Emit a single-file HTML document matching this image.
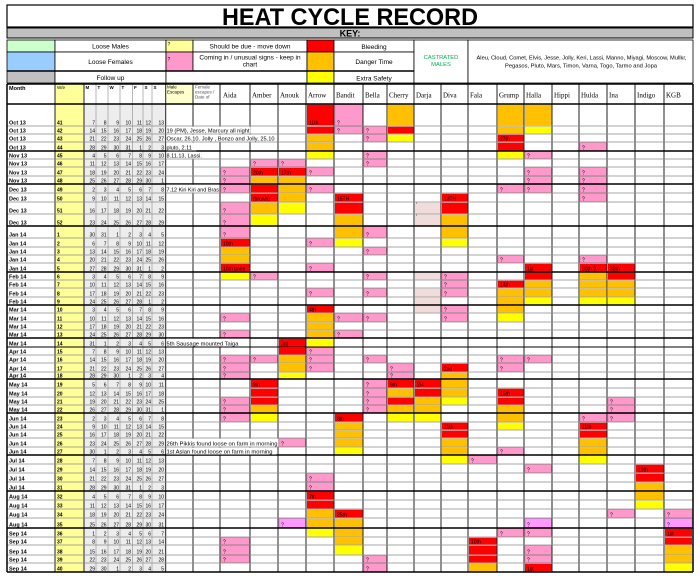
<!DOCTYPE html>
<html><head><meta charset="utf-8"><style>
html,body{margin:0;padding:0;background:#fff;width:700px;height:580px;overflow:hidden}
svg{display:block}
text{font-family:"Liberation Sans",Arial,sans-serif;fill:#000}
.m{font-size:5.5px;font-weight:bold}
.w{font-size:5px;font-weight:bold}
.n{font-size:5px;text-anchor:end}
.c{font-size:5px}
.k{font-size:6.5px;text-anchor:middle}
.nt{font-size:5.5px}
.dn{font-family:"Liberation Serif","Times New Roman",serif;font-size:7px}
.h{font-size:4.5px}
.r{fill:#ff0000}.o{fill:#ffc000}.y{fill:#ffff00}.p{fill:#ff99cc;stroke:#d9739f;stroke-width:.5}.l{fill:#f2dcdb}.g{fill:#ff99ff;stroke:#c060c0;stroke-width:.5}
</style></head><body>
<svg width="700" height="580" viewBox="0 0 700 580" xmlns="http://www.w3.org/2000/svg">
<rect width="700" height="580" fill="#fff"/>
<!-- Title -->
<rect x="7" y="5" width="686" height="22" fill="#fff" stroke="#000" stroke-width="1.2"/>
<text x="350" y="25" font-size="24" font-weight="bold" text-anchor="middle" textLength="256" lengthAdjust="spacingAndGlyphs">HEAT CYCLE RECORD</text>
<rect x="7" y="28" width="686" height="10" fill="#c0c0c0" stroke="#000" stroke-width="1"/>
<text x="350" y="36.5" font-size="9" font-weight="bold" text-anchor="middle">KEY:</text>
<!-- Key -->
<g stroke="#000" stroke-width=".8">
<rect x="7" y="40" width="48" height="12" fill="#ccffcc"/>
<rect x="7" y="52" width="48" height="19" fill="#99ccff"/>
<rect x="7" y="71" width="48" height="12" fill="#c0c0c0"/>
<rect x="55" y="40" width="111" height="12" fill="#fff"/>
<rect x="55" y="52" width="111" height="19" fill="#fff"/>
<rect x="55" y="71" width="111" height="12" fill="#fff"/>
<rect x="166" y="40" width="27" height="12" fill="#ffff99"/>
<rect x="166" y="52" width="27" height="19" fill="#ff99cc"/>
<rect x="193" y="40" width="114" height="12" fill="#fff"/>
<rect x="193" y="52" width="114" height="19" fill="#fff"/>
<rect x="166" y="71" width="141" height="12" fill="#fff"/>
<rect x="307" y="40" width="27" height="12" fill="#ff0000"/>
<rect x="307" y="52" width="27" height="19" fill="#ffc000"/>
<rect x="307" y="71" width="27" height="12" fill="#ffff00"/>
<rect x="334" y="40" width="80" height="12" fill="#fff"/>
<rect x="334" y="52" width="80" height="19" fill="#fff"/>
<rect x="334" y="71" width="80" height="12" fill="#fff"/>
<rect x="414" y="40" width="54" height="43" fill="#fff"/>
<rect x="468" y="40" width="225" height="43" fill="#fff"/>
</g>
<line x1="7" y1="71" x2="414" y2="71" stroke="#000" stroke-width="1.6"/>
<text class="k" x="110.5" y="48.5">Loose Males</text>
<text class="k" x="110.5" y="64">Loose Females</text>
<text class="k" x="110.5" y="80">Follow up</text>
<text class="c" x="167.5" y="46">?</text>
<text class="c" x="167.5" y="61">?</text>
<text class="k" x="250" y="48.5">Should be due - move down</text>
<text class="k" x="250" y="59.5">Coming in / unusual signs - keep in</text>
<text class="k" x="250" y="66.5">chart</text>
<text class="k" x="374" y="49">Bleeding</text>
<text class="k" x="374" y="64">Danger Time</text>
<text class="k" x="374" y="80.5">Extra Safety</text>
<text x="441" y="59" font-size="5.8" text-anchor="middle" style="fill:#00b050">CASTRATED</text>
<text x="441" y="66" font-size="5.8" text-anchor="middle" style="fill:#00b050">MALES</text>
<text x="581.5" y="59.5" font-size="5.5" text-anchor="middle" textLength="210" lengthAdjust="spacingAndGlyphs">Aleu, Cloud, Comet,  Elvis, Jesse, Jolly, Keri, Lassi, Manno, Miyagi, Moscow, Mullkr,</text>
<text x="581" y="67.5" font-size="5.5" text-anchor="middle" textLength="152" lengthAdjust="spacingAndGlyphs">Pegasos, Pluto, Mars, Timon, Varna, Togo, Tarmo and Jopa</text>

<!-- table backgrounds -->
<rect x="7" y="84" width="686" height="488" fill="#fff"/>
<rect x="55" y="84" width="29" height="488" fill="#ffff99"/>
<rect x="84" y="104" width="81.7" height="468" fill="#ededed"/>
<rect x="165.7" y="84" width="27.3" height="20" fill="#ffffcc"/>

<!-- colored cells -->
<g>
<!-- wk41 -->
<rect class="r" x="307" y="104.7" width="26.5" height="20.6"/>
<rect class="p" x="335" y="104.7" width="27.5" height="20.6"/>
<rect class="o" x="388" y="104.7" width="25.5" height="20.6"/>
<rect class="o" x="498" y="104.7" width="25.5" height="20.6"/>
<rect class="o" x="525" y="104.7" width="26.5" height="20.6"/>
<!-- wk42 -->
<rect class="r" x="307" y="126.7" width="26.5" height="6.8"/>
<rect class="p" x="335" y="126.7" width="27.5" height="6.8"/>
<rect class="p" x="364" y="126.7" width="22.5" height="6.8"/>
<rect class="r" x="388" y="126.7" width="25.5" height="6.8"/>
<rect class="o" x="498" y="126.7" width="25.5" height="6.8"/>
<rect class="y" x="525" y="126.7" width="26.5" height="6.8"/>
<!-- wk43 -->
<rect class="o" x="307" y="134.7" width="26.5" height="6.8"/>
<rect class="p" x="364" y="134.7" width="22.5" height="6.8"/>
<rect class="y" x="388" y="134.7" width="25.5" height="6.8"/>
<rect class="r" x="498" y="134.7" width="25.5" height="6.8"/>
<!-- wk44 -->
<rect class="o" x="307" y="142.7" width="26.5" height="7.8"/>
<rect class="r" x="498" y="142.7" width="25.5" height="7.8"/>
<rect class="p" x="580" y="142.7" width="26.5" height="7.8"/>
<!-- wk45 -->
<rect class="y" x="307" y="151.7" width="26.5" height="6.8"/>
<rect class="p" x="364" y="151.7" width="22.5" height="6.8"/>
<rect class="y" x="498" y="151.7" width="25.5" height="6.8"/>
<rect class="p" x="525" y="151.7" width="26.5" height="6.8"/>
<!-- wk46 -->
<rect class="p" x="251" y="159.7" width="26.5" height="6.8"/>
<rect class="p" x="279" y="159.7" width="26.5" height="6.8"/>
<rect class="p" x="364" y="159.7" width="22.5" height="6.8"/>
<!-- wk47 -->
<rect class="p" x="221" y="167.7" width="28.5" height="7.8"/>
<rect class="r" x="251" y="167.7" width="26.5" height="7.8"/>
<rect class="r" x="279" y="167.7" width="26.5" height="7.8"/>
<rect class="p" x="307" y="167.7" width="26.5" height="7.8"/>
<rect class="p" x="525" y="167.7" width="26.5" height="7.8"/>
<rect class="p" x="580" y="167.7" width="26.5" height="7.8"/>
<!-- wk48 -->
<rect class="p" x="221" y="176.7" width="28.5" height="6.8"/>
<rect class="o" x="251" y="176.7" width="26.5" height="6.8"/>
<rect class="o" x="279" y="176.7" width="26.5" height="6.8"/>
<rect class="p" x="525" y="176.7" width="26.5" height="6.8"/>
<rect class="p" x="580" y="176.7" width="26.5" height="6.8"/>
<!-- wk49 -->
<rect class="p" x="221" y="184.7" width="28.5" height="7.8"/>
<rect class="r" x="251" y="184.7" width="26.5" height="7.8"/>
<rect class="o" x="279" y="184.7" width="26.5" height="7.8"/>
<rect class="p" x="307" y="184.7" width="26.5" height="7.8"/>
<rect class="p" x="498" y="184.7" width="25.5" height="7.8"/>
<rect class="p" x="525" y="184.7" width="26.5" height="7.8"/>
<rect class="p" x="580" y="184.7" width="26.5" height="7.8"/>
<!-- wk50 -->
<rect class="r" x="251" y="193.7" width="26.5" height="7.8"/>
<rect class="o" x="279" y="193.7" width="26.5" height="7.8"/>
<rect class="r" x="335" y="193.7" width="27.5" height="7.8"/>
<rect class="r" x="442" y="193.7" width="25.5" height="7.8"/>
<rect class="p" x="580" y="193.7" width="26.5" height="7.8"/>
<!-- wk51 -->
<rect class="p" x="221" y="202.7" width="28.5" height="10.8"/>
<rect class="o" x="251" y="202.7" width="26.5" height="10.8"/>
<rect class="y" x="279" y="202.7" width="26.5" height="10.8"/>
<rect class="r" x="335" y="202.7" width="27.5" height="10.8"/>
<rect class="l" x="415" y="202.7" width="25.5" height="10.8"/>
<rect class="r" x="442" y="202.7" width="25.5" height="10.8"/>
<!-- wk52 -->
<rect class="p" x="221" y="214.7" width="28.5" height="10.8"/>
<rect class="y" x="251" y="214.7" width="26.5" height="10.8"/>
<rect class="o" x="335" y="214.7" width="27.5" height="10.8"/>
<rect class="l" x="415" y="214.7" width="25.5" height="10.8"/>
<rect class="o" x="442" y="214.7" width="25.5" height="10.8"/>
<!-- wk1 -->
<rect class="p" x="221" y="226.7" width="28.5" height="10.8"/>
<rect class="o" x="335" y="226.7" width="27.5" height="10.8"/>
<rect class="p" x="364" y="226.7" width="22.5" height="10.8"/>
<rect class="o" x="442" y="226.7" width="25.5" height="10.8"/>
<!-- wk2 -->
<rect class="r" x="221" y="238.7" width="28.5" height="7.8"/>
<rect class="p" x="307" y="238.7" width="26.5" height="7.8"/>
<rect class="y" x="335" y="238.7" width="27.5" height="7.8"/>
<rect class="y" x="442" y="238.7" width="25.5" height="7.8"/>
<!-- wk3 -->
<rect class="o" x="221" y="247.7" width="28.5" height="6.8"/>
<rect class="p" x="364" y="247.7" width="22.5" height="6.8"/>
<!-- wk4 -->
<rect class="o" x="221" y="255.7" width="28.5" height="6.8"/>
<rect class="p" x="498" y="255.7" width="25.5" height="6.8"/>
<rect class="p" x="580" y="255.7" width="26.5" height="6.8"/>
<!-- wk5 -->
<rect class="r" x="221" y="263.7" width="28.5" height="7.8"/>
<rect class="p" x="307" y="263.7" width="26.5" height="7.8"/>
<rect class="r" x="525" y="263.7" width="26.5" height="7.8"/>
<rect class="r" x="580" y="263.7" width="26.5" height="7.8"/>
<rect class="r" x="608" y="263.7" width="26.5" height="7.8"/>
<!-- wk6 -->
<rect class="y" x="221" y="272.7" width="28.5" height="6.8"/>
<rect class="p" x="251" y="272.7" width="26.5" height="6.8"/>
<rect class="p" x="364" y="272.7" width="22.5" height="6.8"/>
<rect class="l" x="415" y="272.7" width="25.5" height="6.8"/>
<rect class="p" x="442" y="272.7" width="25.5" height="6.8"/>
<rect class="r" x="525" y="272.7" width="26.5" height="6.8"/>
<rect class="o" x="580" y="272.7" width="26.5" height="6.8"/>
<rect class="r" x="608" y="272.7" width="26.5" height="6.8"/>
<!-- wk7 -->
<rect class="p" x="442" y="280.7" width="25.5" height="6.8"/>
<rect class="r" x="498" y="280.7" width="25.5" height="6.8"/>
<rect class="o" x="525" y="280.7" width="26.5" height="6.8"/>
<rect class="o" x="580" y="280.7" width="26.5" height="6.8"/>
<rect class="o" x="608" y="280.7" width="26.5" height="6.8"/>
<!-- wk8 -->
<rect class="p" x="307" y="288.7" width="26.5" height="7.8"/>
<rect class="p" x="364" y="288.7" width="22.5" height="7.8"/>
<rect class="l" x="415" y="288.7" width="25.5" height="7.8"/>
<rect class="p" x="442" y="288.7" width="25.5" height="7.8"/>
<rect class="o" x="498" y="288.7" width="25.5" height="7.8"/>
<rect class="o" x="525" y="288.7" width="26.5" height="7.8"/>
<rect class="o" x="580" y="288.7" width="26.5" height="7.8"/>
<rect class="o" x="608" y="288.7" width="26.5" height="7.8"/>
<!-- wk9 -->
<rect class="l" x="415" y="297.7" width="25.5" height="6.8"/>
<rect class="o" x="498" y="297.7" width="25.5" height="6.8"/>
<rect class="y" x="525" y="297.7" width="26.5" height="6.8"/>
<rect class="y" x="580" y="297.7" width="26.5" height="6.8"/>
<rect class="y" x="608" y="297.7" width="26.5" height="6.8"/>
<!-- wk10 -->
<rect class="r" x="307" y="305.7" width="26.5" height="6.8"/>
<rect class="l" x="415" y="305.7" width="25.5" height="6.8"/>
<rect class="p" x="442" y="305.7" width="25.5" height="6.8"/>
<rect class="o" x="498" y="305.7" width="25.5" height="6.8"/>
<!-- wk11 -->
<rect class="p" x="221" y="313.7" width="28.5" height="7.8"/>
<rect class="o" x="307" y="313.7" width="26.5" height="7.8"/>
<rect class="p" x="335" y="313.7" width="27.5" height="7.8"/>
<rect class="p" x="364" y="313.7" width="22.5" height="7.8"/>
<rect class="p" x="442" y="313.7" width="25.5" height="7.8"/>
<rect class="y" x="498" y="313.7" width="25.5" height="7.8"/>
<!-- wk12 -->
<rect class="o" x="307" y="322.7" width="26.5" height="6.8"/>
<!-- wk13 -->
<rect class="p" x="221" y="330.7" width="28.5" height="6.8"/>
<rect class="o" x="307" y="330.7" width="26.5" height="6.8"/>
<rect class="p" x="335" y="330.7" width="27.5" height="6.8"/>
<!-- wk14 -->
<rect class="r" x="279" y="338.7" width="26.5" height="7.8"/>
<rect class="y" x="307" y="338.7" width="26.5" height="7.8"/>
<!-- wk15 -->
<rect class="r" x="279" y="347.7" width="26.5" height="6.8"/>
<rect class="p" x="307" y="347.7" width="26.5" height="6.8"/>
<!-- wk16 -->
<rect class="p" x="221" y="355.7" width="28.5" height="6.8"/>
<rect class="p" x="251" y="355.7" width="26.5" height="6.8"/>
<rect class="o" x="279" y="355.7" width="26.5" height="6.8"/>
<rect class="p" x="307" y="355.7" width="26.5" height="6.8"/>
<rect class="p" x="364" y="355.7" width="22.5" height="6.8"/>
<rect class="p" x="498" y="355.7" width="25.5" height="6.8"/>
<rect class="p" x="525" y="355.7" width="26.5" height="6.8"/>
<!-- wk17 -->
<rect class="p" x="221" y="363.7" width="28.5" height="7.8"/>
<rect class="o" x="279" y="363.7" width="26.5" height="7.8"/>
<rect class="p" x="307" y="363.7" width="26.5" height="7.8"/>
<rect class="p" x="388" y="363.7" width="25.5" height="7.8"/>
<rect class="r" x="442" y="363.7" width="25.5" height="7.8"/>
<rect class="p" x="498" y="363.7" width="25.5" height="7.8"/>
<!-- wk18 -->
<rect class="p" x="221" y="372.7" width="28.5" height="5.8"/>
<rect class="y" x="279" y="372.7" width="26.5" height="5.8"/>
<rect class="p" x="388" y="372.7" width="25.5" height="5.8"/>
<rect class="o" x="442" y="372.7" width="25.5" height="5.8"/>
<!-- wk19 -->
<rect class="r" x="251" y="379.7" width="26.5" height="7.8"/>
<rect class="p" x="364" y="379.7" width="22.5" height="7.8"/>
<rect class="r" x="388" y="379.7" width="25.5" height="7.8"/>
<rect class="r" x="415" y="379.7" width="25.5" height="7.8"/>
<rect class="o" x="442" y="379.7" width="25.5" height="7.8"/>
<!-- wk20 -->
<rect class="r" x="251" y="388.7" width="26.5" height="7.8"/>
<rect class="p" x="364" y="388.7" width="22.5" height="7.8"/>
<rect class="o" x="388" y="388.7" width="25.5" height="7.8"/>
<rect class="r" x="415" y="388.7" width="25.5" height="7.8"/>
<rect class="o" x="442" y="388.7" width="25.5" height="7.8"/>
<rect class="r" x="498" y="388.7" width="25.5" height="7.8"/>
<!-- wk21 -->
<rect class="p" x="221" y="397.7" width="28.5" height="6.8"/>
<rect class="r" x="251" y="397.7" width="26.5" height="6.8"/>
<rect class="p" x="364" y="397.7" width="22.5" height="6.8"/>
<rect class="r" x="388" y="397.7" width="25.5" height="6.8"/>
<rect class="o" x="415" y="397.7" width="25.5" height="6.8"/>
<rect class="y" x="442" y="397.7" width="25.5" height="6.8"/>
<rect class="r" x="498" y="397.7" width="25.5" height="6.8"/>
<rect class="p" x="608" y="397.7" width="26.5" height="6.8"/>
<!-- wk22 -->
<rect class="p" x="221" y="405.7" width="28.5" height="6.8"/>
<rect class="o" x="251" y="405.7" width="26.5" height="6.8"/>
<rect class="p" x="364" y="405.7" width="22.5" height="6.8"/>
<rect class="o" x="388" y="405.7" width="25.5" height="6.8"/>
<rect class="o" x="415" y="405.7" width="25.5" height="6.8"/>
<rect class="o" x="498" y="405.7" width="25.5" height="6.8"/>
<rect class="p" x="608" y="405.7" width="26.5" height="6.8"/>
<!-- wk23 -->
<rect class="p" x="221" y="413.7" width="28.5" height="7.8"/>
<rect class="y" x="251" y="413.7" width="26.5" height="7.8"/>
<rect class="r" x="335" y="413.7" width="27.5" height="7.8"/>
<rect class="y" x="388" y="413.7" width="25.5" height="7.8"/>
<rect class="y" x="415" y="413.7" width="25.5" height="7.8"/>
<rect class="o" x="498" y="413.7" width="25.5" height="7.8"/>
<rect class="p" x="580" y="413.7" width="26.5" height="7.8"/>
<rect class="p" x="608" y="413.7" width="26.5" height="7.8"/>
<!-- wk24 -->
<rect class="o" x="335" y="422.7" width="27.5" height="6.8"/>
<rect class="r" x="442" y="422.7" width="25.5" height="6.8"/>
<rect class="y" x="498" y="422.7" width="25.5" height="6.8"/>
<rect class="r" x="580" y="422.7" width="26.5" height="6.8"/>
<!-- wk25 -->
<rect class="o" x="335" y="430.7" width="27.5" height="6.8"/>
<rect class="r" x="442" y="430.7" width="25.5" height="6.8"/>
<rect class="r" x="580" y="430.7" width="26.5" height="6.8"/>
<!-- wk26 -->
<rect class="p" x="279" y="438.7" width="26.5" height="7.8"/>
<rect class="o" x="335" y="438.7" width="27.5" height="7.8"/>
<rect class="o" x="442" y="438.7" width="25.5" height="7.8"/>
<rect class="o" x="580" y="438.7" width="26.5" height="7.8"/>
<!-- wk27 -->
<rect class="y" x="335" y="447.7" width="27.5" height="6.8"/>
<rect class="o" x="442" y="447.7" width="25.5" height="6.8"/>
<rect class="p" x="498" y="447.7" width="25.5" height="6.8"/>
<rect class="o" x="580" y="447.7" width="26.5" height="6.8"/>
<!-- wk28 -->
<rect class="y" x="442" y="455.7" width="25.5" height="7.8"/>
<rect class="p" x="469" y="455.7" width="27.5" height="7.8"/>
<rect class="y" x="580" y="455.7" width="26.5" height="7.8"/>
<!-- wk29 -->
<rect class="p" x="525" y="464.7" width="26.5" height="7.8"/>
<rect class="r" x="636" y="464.7" width="27.5" height="7.8"/>
<!-- wk30 -->
<rect class="p" x="307" y="473.7" width="26.5" height="7.8"/>
<rect class="r" x="636" y="473.7" width="27.5" height="7.8"/>
<!-- wk31 -->
<rect class="p" x="307" y="482.7" width="26.5" height="7.8"/>
<rect class="o" x="636" y="482.7" width="27.5" height="7.8"/>
<!-- wk32 -->
<rect class="r" x="307" y="491.7" width="26.5" height="7.8"/>
<rect class="o" x="636" y="491.7" width="27.5" height="7.8"/>
<!-- wk33 -->
<rect class="r" x="307" y="500.7" width="26.5" height="7.8"/>
<rect class="y" x="636" y="500.7" width="27.5" height="7.8"/>
<!-- wk34 -->
<rect class="o" x="307" y="509.7" width="26.5" height="7.8"/>
<rect class="r" x="335" y="509.7" width="27.5" height="7.8"/>
<rect class="p" x="608" y="509.7" width="26.5" height="7.8"/>
<rect class="p" x="665" y="509.7" width="27" height="7.8"/>
<!-- wk35 -->
<rect class="g" x="279" y="518.7" width="26.5" height="8.8"/>
<rect class="o" x="307" y="518.7" width="26.5" height="8.8"/>
<rect class="o" x="335" y="518.7" width="27.5" height="8.8"/>
<rect class="g" x="525" y="518.7" width="26.5" height="8.8"/>
<rect class="g" x="665" y="518.7" width="27" height="8.8"/>
<!-- wk36 -->
<rect class="y" x="307" y="528.7" width="26.5" height="7.8"/>
<rect class="o" x="335" y="528.7" width="27.5" height="7.8"/>
<rect class="p" x="498" y="528.7" width="25.5" height="7.8"/>
<rect class="p" x="525" y="528.7" width="26.5" height="7.8"/>
<rect class="r" x="665" y="528.7" width="27" height="7.8"/>
<!-- wk37 -->
<rect class="p" x="221" y="537.7" width="28.5" height="6.8"/>
<rect class="o" x="335" y="537.7" width="27.5" height="6.8"/>
<rect class="r" x="469" y="537.7" width="27.5" height="6.8"/>
<rect class="r" x="665" y="537.7" width="27" height="6.8"/>
<!-- wk38 -->
<rect class="p" x="221" y="545.7" width="28.5" height="8.8"/>
<rect class="y" x="335" y="545.7" width="27.5" height="8.8"/>
<rect class="r" x="469" y="545.7" width="27.5" height="8.8"/>
<rect class="p" x="525" y="545.7" width="26.5" height="8.8"/>
<rect class="o" x="665" y="545.7" width="27" height="8.8"/>
<!-- wk39 -->
<rect class="p" x="221" y="555.7" width="28.5" height="6.8"/>
<rect class="p" x="364" y="555.7" width="22.5" height="6.8"/>
<rect class="r" x="469" y="555.7" width="27.5" height="6.8"/>
<rect class="p" x="525" y="555.7" width="26.5" height="6.8"/>
<rect class="o" x="665" y="555.7" width="27" height="6.8"/>
<!-- wk40 -->
<rect class="p" x="364" y="563.7" width="22.5" height="7.8"/>
<rect class="o" x="469" y="563.7" width="27.5" height="7.8"/>
<rect class="r" x="525" y="563.7" width="26.5" height="7.8"/>
<rect class="y" x="665" y="563.7" width="27" height="7.8"/>
</g>

<!-- grid lines -->
<path fill="none" stroke="#999" stroke-width=".7" d="M96 84V572M108 84V572M120 84V572M132.5 84V572M143 84V572M152 84V572"/>
<path fill="none" stroke="#222" stroke-width="1" d="M55 84V572M84 84V572M165.7 84V572M193 84V572M220 84V572M250 84V572M278 84V572M306 84V572M334 84V572M363 84V572M387 84V572M414 84V572M441 84V572M468 84V572M497 84V572M524 84V572M552 84V572M579 84V572M607 84V572M635 84V572M664 84V572"/>
<path fill="none" stroke="#8a8a8a" stroke-width=".7" d="M7 126H693M7 134H693M7 142H693M7 159H693M7 167H693M7 176H693M7 193H693M7 202H693M7 214H693M7 238H693M7 247H693M7 255H693M7 263H693M7 280H693M7 288H693M7 297H693M7 313H693M7 322H693M7 330H693M7 355H693M7 363H693M7 372H693M7 388H693M7 397H693M7 405H693M7 422H693M7 430H693M7 438H693M7 447H693M7 464H693M7 473H693M7 482H693M7 500H693M7 509H693M7 518H693M7 537H693M7 545H693M7 555H693M7 563H693"/>
<path fill="none" stroke="#000" stroke-width="1.1" d="M7 347H693"/>
<path fill="none" stroke="#000" stroke-width="1.5" d="M7 84H693M7 104H693M7 151H693M7 184H693M7 226H693M7 272H693M7 305H693M7 338H693M7 379H693M7 413H693M7 455H693M7 491H693M7 528H693M7 572H693"/>
<path fill="none" stroke="#000" stroke-width="1.5" d="M7 84V572M693 84V572"/>

<!-- overflow note backgrounds -->
<g fill="#fff">
<rect x="166.3" y="126.7" width="84" height="6.8"/>
<rect x="166.3" y="134.7" width="109" height="6.8"/>
<rect x="166.3" y="142.7" width="30" height="7.8"/>
<rect x="166.3" y="151.7" width="30" height="6.8"/>
<rect x="166.3" y="184.7" width="53.2" height="7.8"/>
<rect x="166.3" y="338.7" width="83" height="7.8"/>
<rect x="166.3" y="438.7" width="112" height="7.8"/>
<rect x="166.3" y="447.7" width="110" height="6.8"/>
</g>

<!-- header row -->
<text class="m" x="9" y="90">Month</text>
<text class="h" x="57" y="89">W/e</text>
<text class="h" font-weight="bold" x="85.5" y="89">M</text>
<text class="h" font-weight="bold" x="97.5" y="89">T</text>
<text class="h" font-weight="bold" x="109.5" y="89">W</text>
<text class="h" font-weight="bold" x="121.5" y="89">T</text>
<text class="h" font-weight="bold" x="134" y="89">F</text>
<text class="h" font-weight="bold" x="144.5" y="89">S</text>
<text class="h" font-weight="bold" x="153.5" y="89">S</text>
<text class="h" x="167" y="88.5">Male</text>
<text class="h" x="167" y="93.5">Escapes</text>
<text class="h" x="195" y="88.5" style="fill:#555">Female</text>
<text class="h" x="195" y="93.5" style="fill:#555">escapes /</text>
<text class="h" x="195" y="98.5" style="fill:#555">Date of</text>
<g class="dn">
<text class="dn" x="223" y="97.5">Aida</text>
<text class="dn" x="252" y="97.5">Amber</text>
<text class="dn" x="280" y="97.5">Anouk</text>
<text class="dn" x="308" y="97.5">Arrow</text>
<text class="dn" x="336" y="97.5">Bandit</text>
<text class="dn" x="365" y="97.5">Bella</text>
<text class="dn" x="389" y="97.5">Cherry</text>
<text class="dn" x="416" y="97.5">Darja</text>
<text class="dn" x="443" y="97.5">Diva</text>
<text class="dn" x="470" y="97.5">Fala</text>
<text class="dn" x="499" y="97.5">Grump</text>
<text class="dn" x="526" y="97.5">Halla</text>
<text class="dn" x="554" y="97.5">Hippi</text>
<text class="dn" x="581" y="97.5">Hulda</text>
<text class="dn" x="609" y="97.5">Ina</text>
<text class="dn" x="637" y="97.5">Indigo</text>
<text class="dn" x="666" y="97.5">KGB</text>
</g>

<!-- month labels and week numbers -->
<text class="m" x="9" y="124.5">Oct 13</text><text class="w" x="57" y="124.5">41</text>
<text class="m" x="9" y="132.5">Oct 13</text><text class="w" x="57" y="132.5">42</text>
<text class="m" x="9" y="140.5">Oct 13</text><text class="w" x="57" y="140.5">43</text>
<text class="m" x="9" y="149.5">Oct 13</text><text class="w" x="57" y="149.5">44</text>
<text class="m" x="9" y="157.5">Nov 13</text><text class="w" x="57" y="157.5">45</text>
<text class="m" x="9" y="165.5">Nov 13</text><text class="w" x="57" y="165.5">46</text>
<text class="m" x="9" y="174.5">Nov 13</text><text class="w" x="57" y="174.5">47</text>
<text class="m" x="9" y="182.5">Nov 13</text><text class="w" x="57" y="182.5">48</text>
<text class="m" x="9" y="191.5">Dec 13</text><text class="w" x="57" y="191.5">49</text>
<text class="m" x="9" y="200.5">Dec 13</text><text class="w" x="57" y="200.5">50</text>
<text class="m" x="9" y="212.5">Dec 13</text><text class="w" x="57" y="212.5">51</text>
<text class="m" x="9" y="224.5">Dec 13</text><text class="w" x="57" y="224.5">52</text>
<text class="m" x="9" y="236.5">Jan 14</text><text class="w" x="57" y="236.5">1</text>
<text class="m" x="9" y="245.5">Jan 14</text><text class="w" x="57" y="245.5">2</text>
<text class="m" x="9" y="253.5">Jan 14</text><text class="w" x="57" y="253.5">3</text>
<text class="m" x="9" y="261.5">Jan 14</text><text class="w" x="57" y="261.5">4</text>
<text class="m" x="9" y="270.5">Jan 14</text><text class="w" x="57" y="270.5">5</text>
<text class="m" x="9" y="278.5">Feb 14</text><text class="w" x="57" y="278.5">6</text>
<text class="m" x="9" y="286.5">Feb 14</text><text class="w" x="57" y="286.5">7</text>
<text class="m" x="9" y="295.5">Feb 14</text><text class="w" x="57" y="295.5">8</text>
<text class="m" x="9" y="303.5">Feb 14</text><text class="w" x="57" y="303.5">9</text>
<text class="m" x="9" y="311.5">Mar 14</text><text class="w" x="57" y="311.5">10</text>
<text class="m" x="9" y="320.5">Mar 14</text><text class="w" x="57" y="320.5">11</text>
<text class="m" x="9" y="328.5">Mar 14</text><text class="w" x="57" y="328.5">12</text>
<text class="m" x="9" y="336.5">Mar 14</text><text class="w" x="57" y="336.5">13</text>
<text class="m" x="9" y="345.5">Mar 14</text><text class="w" x="57" y="345.5">14</text>
<text class="m" x="9" y="353.5">Apr 14</text><text class="w" x="57" y="353.5">15</text>
<text class="m" x="9" y="361.5">Apr 14</text><text class="w" x="57" y="361.5">16</text>
<text class="m" x="9" y="370.5">Apr 14</text><text class="w" x="57" y="370.5">17</text>
<text class="m" x="9" y="377.5">Apr 14</text><text class="w" x="57" y="377.5">18</text>
<text class="m" x="9" y="386.5">May 14</text><text class="w" x="57" y="386.5">19</text>
<text class="m" x="9" y="395.5">May 14</text><text class="w" x="57" y="395.5">20</text>
<text class="m" x="9" y="403.5">May 14</text><text class="w" x="57" y="403.5">21</text>
<text class="m" x="9" y="411.5">May 14</text><text class="w" x="57" y="411.5">22</text>
<text class="m" x="9" y="420.5">Jun 14</text><text class="w" x="57" y="420.5">23</text>
<text class="m" x="9" y="428.5">Jun 14</text><text class="w" x="57" y="428.5">24</text>
<text class="m" x="9" y="436.5">Jun 14</text><text class="w" x="57" y="436.5">25</text>
<text class="m" x="9" y="445.5">Jun 14</text><text class="w" x="57" y="445.5">26</text>
<text class="m" x="9" y="453.5">Jun 14</text><text class="w" x="57" y="453.5">27</text>
<text class="m" x="9" y="462.5">Jul 14</text><text class="w" x="57" y="462.5">28</text>
<text class="m" x="9" y="471.5">Jul 14</text><text class="w" x="57" y="471.5">29</text>
<text class="m" x="9" y="480.5">Jul 14</text><text class="w" x="57" y="480.5">30</text>
<text class="m" x="9" y="489.5">Jul 14</text><text class="w" x="57" y="489.5">31</text>
<text class="m" x="9" y="498.5">Aug 14</text><text class="w" x="57" y="498.5">32</text>
<text class="m" x="9" y="507.5">Aug 14</text><text class="w" x="57" y="507.5">33</text>
<text class="m" x="9" y="516.5">Aug 14</text><text class="w" x="57" y="516.5">34</text>
<text class="m" x="9" y="526.5">Aug 14</text><text class="w" x="57" y="526.5">35</text>
<text class="m" x="9" y="535.5">Sep 14</text><text class="w" x="57" y="535.5">36</text>
<text class="m" x="9" y="543.5">Sep 14</text><text class="w" x="57" y="543.5">37</text>
<text class="m" x="9" y="553.5">Sep 14</text><text class="w" x="57" y="553.5">38</text>
<text class="m" x="9" y="561.5">Sep 14</text><text class="w" x="57" y="561.5">39</text>
<text class="m" x="9" y="570.5">Sep 14</text><text class="w" x="57" y="570.5">40</text>

<!-- day numbers -->
<text class="n" y="124.5"><tspan x="95">7</tspan><tspan x="106.5">8</tspan><tspan x="119">9</tspan><tspan x="131">10</tspan><tspan x="142">11</tspan><tspan x="151">12</tspan><tspan x="164">13</tspan></text>
<text class="n" y="132.5"><tspan x="95">14</tspan><tspan x="106.5">15</tspan><tspan x="119">16</tspan><tspan x="131">17</tspan><tspan x="142">18</tspan><tspan x="151">19</tspan><tspan x="164">20</tspan></text>
<text class="n" y="140.5"><tspan x="95">21</tspan><tspan x="106.5">22</tspan><tspan x="119">23</tspan><tspan x="131">24</tspan><tspan x="142">25</tspan><tspan x="151">26</tspan><tspan x="164">27</tspan></text>
<text class="n" y="149.5"><tspan x="95">28</tspan><tspan x="106.5">29</tspan><tspan x="119">30</tspan><tspan x="131">31</tspan><tspan x="142">1</tspan><tspan x="151">2</tspan><tspan x="164">3</tspan></text>
<text class="n" y="157.5"><tspan x="95">4</tspan><tspan x="106.5">5</tspan><tspan x="119">6</tspan><tspan x="131">7</tspan><tspan x="142">8</tspan><tspan x="151">9</tspan><tspan x="164">10</tspan></text>
<text class="n" y="165.5"><tspan x="95">11</tspan><tspan x="106.5">12</tspan><tspan x="119">13</tspan><tspan x="131">14</tspan><tspan x="142">15</tspan><tspan x="151">16</tspan><tspan x="164">17</tspan></text>
<text class="n" y="174.5"><tspan x="95">18</tspan><tspan x="106.5">19</tspan><tspan x="119">20</tspan><tspan x="131">21</tspan><tspan x="142">22</tspan><tspan x="151">23</tspan><tspan x="164">24</tspan></text>
<text class="n" y="182.5"><tspan x="95">25</tspan><tspan x="106.5">26</tspan><tspan x="119">27</tspan><tspan x="131">28</tspan><tspan x="142">29</tspan><tspan x="151">30</tspan><tspan x="164">1</tspan></text>
<text class="n" y="191.5"><tspan x="95">2</tspan><tspan x="106.5">3</tspan><tspan x="119">4</tspan><tspan x="131">5</tspan><tspan x="142">6</tspan><tspan x="151">7</tspan><tspan x="164">8</tspan></text>
<text class="n" y="200.5"><tspan x="95">9</tspan><tspan x="106.5">10</tspan><tspan x="119">11</tspan><tspan x="131">12</tspan><tspan x="142">13</tspan><tspan x="151">14</tspan><tspan x="164">15</tspan></text>
<text class="n" y="212.5"><tspan x="95">16</tspan><tspan x="106.5">17</tspan><tspan x="119">18</tspan><tspan x="131">19</tspan><tspan x="142">20</tspan><tspan x="151">21</tspan><tspan x="164">22</tspan></text>
<text class="n" y="224.5"><tspan x="95">23</tspan><tspan x="106.5">24</tspan><tspan x="119">25</tspan><tspan x="131">26</tspan><tspan x="142">27</tspan><tspan x="151">28</tspan><tspan x="164">29</tspan></text>
<text class="n" y="236.5"><tspan x="95">30</tspan><tspan x="106.5">31</tspan><tspan x="119">1</tspan><tspan x="131">2</tspan><tspan x="142">3</tspan><tspan x="151">4</tspan><tspan x="164">5</tspan></text>
<text class="n" y="245.5"><tspan x="95">6</tspan><tspan x="106.5">7</tspan><tspan x="119">8</tspan><tspan x="131">9</tspan><tspan x="142">10</tspan><tspan x="151">11</tspan><tspan x="164">12</tspan></text>
<text class="n" y="253.5"><tspan x="95">13</tspan><tspan x="106.5">14</tspan><tspan x="119">15</tspan><tspan x="131">16</tspan><tspan x="142">17</tspan><tspan x="151">18</tspan><tspan x="164">19</tspan></text>
<text class="n" y="261.5"><tspan x="95">20</tspan><tspan x="106.5">21</tspan><tspan x="119">22</tspan><tspan x="131">23</tspan><tspan x="142">24</tspan><tspan x="151">25</tspan><tspan x="164">26</tspan></text>
<text class="n" y="270.5"><tspan x="95">27</tspan><tspan x="106.5">28</tspan><tspan x="119">29</tspan><tspan x="131">30</tspan><tspan x="142">31</tspan><tspan x="151">1</tspan><tspan x="164">2</tspan></text>
<text class="n" y="278.5"><tspan x="95">3</tspan><tspan x="106.5">4</tspan><tspan x="119">5</tspan><tspan x="131">6</tspan><tspan x="142">7</tspan><tspan x="151">8</tspan><tspan x="164">9</tspan></text>
<text class="n" y="286.5"><tspan x="95">10</tspan><tspan x="106.5">11</tspan><tspan x="119">12</tspan><tspan x="131">13</tspan><tspan x="142">14</tspan><tspan x="151">15</tspan><tspan x="164">16</tspan></text>
<text class="n" y="295.5"><tspan x="95">17</tspan><tspan x="106.5">18</tspan><tspan x="119">19</tspan><tspan x="131">20</tspan><tspan x="142">21</tspan><tspan x="151">22</tspan><tspan x="164">23</tspan></text>
<text class="n" y="303.5"><tspan x="95">24</tspan><tspan x="106.5">25</tspan><tspan x="119">26</tspan><tspan x="131">27</tspan><tspan x="142">28</tspan><tspan x="151">1</tspan><tspan x="164">2</tspan></text>
<text class="n" y="311.5"><tspan x="95">3</tspan><tspan x="106.5">4</tspan><tspan x="119">5</tspan><tspan x="131">6</tspan><tspan x="142">7</tspan><tspan x="151">8</tspan><tspan x="164">9</tspan></text>
<text class="n" y="320.5"><tspan x="95">10</tspan><tspan x="106.5">11</tspan><tspan x="119">12</tspan><tspan x="131">13</tspan><tspan x="142">14</tspan><tspan x="151">15</tspan><tspan x="164">16</tspan></text>
<text class="n" y="328.5"><tspan x="95">17</tspan><tspan x="106.5">18</tspan><tspan x="119">19</tspan><tspan x="131">20</tspan><tspan x="142">21</tspan><tspan x="151">22</tspan><tspan x="164">23</tspan></text>
<text class="n" y="336.5"><tspan x="95">24</tspan><tspan x="106.5">25</tspan><tspan x="119">26</tspan><tspan x="131">27</tspan><tspan x="142">28</tspan><tspan x="151">29</tspan><tspan x="164">30</tspan></text>
<text class="n" y="345.5"><tspan x="95">31</tspan><tspan x="106.5">1</tspan><tspan x="119">2</tspan><tspan x="131">3</tspan><tspan x="142">4</tspan><tspan x="151">5</tspan><tspan x="164">6</tspan></text>
<text class="n" y="353.5"><tspan x="95">7</tspan><tspan x="106.5">8</tspan><tspan x="119">9</tspan><tspan x="131">10</tspan><tspan x="142">11</tspan><tspan x="151">12</tspan><tspan x="164">13</tspan></text>
<text class="n" y="361.5"><tspan x="95">14</tspan><tspan x="106.5">15</tspan><tspan x="119">16</tspan><tspan x="131">17</tspan><tspan x="142">18</tspan><tspan x="151">19</tspan><tspan x="164">20</tspan></text>
<text class="n" y="370.5"><tspan x="95">21</tspan><tspan x="106.5">22</tspan><tspan x="119">23</tspan><tspan x="131">24</tspan><tspan x="142">25</tspan><tspan x="151">26</tspan><tspan x="164">27</tspan></text>
<text class="n" y="377.5"><tspan x="95">28</tspan><tspan x="106.5">29</tspan><tspan x="119">30</tspan><tspan x="131">1</tspan><tspan x="142">2</tspan><tspan x="151">3</tspan><tspan x="164">4</tspan></text>
<text class="n" y="386.5"><tspan x="95">5</tspan><tspan x="106.5">6</tspan><tspan x="119">7</tspan><tspan x="131">8</tspan><tspan x="142">9</tspan><tspan x="151">10</tspan><tspan x="164">11</tspan></text>
<text class="n" y="395.5"><tspan x="95">12</tspan><tspan x="106.5">13</tspan><tspan x="119">14</tspan><tspan x="131">15</tspan><tspan x="142">16</tspan><tspan x="151">17</tspan><tspan x="164">18</tspan></text>
<text class="n" y="403.5"><tspan x="95">19</tspan><tspan x="106.5">20</tspan><tspan x="119">21</tspan><tspan x="131">22</tspan><tspan x="142">23</tspan><tspan x="151">24</tspan><tspan x="164">25</tspan></text>
<text class="n" y="411.5"><tspan x="95">26</tspan><tspan x="106.5">27</tspan><tspan x="119">28</tspan><tspan x="131">29</tspan><tspan x="142">30</tspan><tspan x="151">31</tspan><tspan x="164">1</tspan></text>
<text class="n" y="420.5"><tspan x="95">2</tspan><tspan x="106.5">3</tspan><tspan x="119">4</tspan><tspan x="131">5</tspan><tspan x="142">6</tspan><tspan x="151">7</tspan><tspan x="164">8</tspan></text>
<text class="n" y="428.5"><tspan x="95">9</tspan><tspan x="106.5">10</tspan><tspan x="119">11</tspan><tspan x="131">12</tspan><tspan x="142">13</tspan><tspan x="151">14</tspan><tspan x="164">15</tspan></text>
<text class="n" y="436.5"><tspan x="95">16</tspan><tspan x="106.5">17</tspan><tspan x="119">18</tspan><tspan x="131">19</tspan><tspan x="142">20</tspan><tspan x="151">21</tspan><tspan x="164">22</tspan></text>
<text class="n" y="445.5"><tspan x="95">23</tspan><tspan x="106.5">24</tspan><tspan x="119">25</tspan><tspan x="131">26</tspan><tspan x="142">27</tspan><tspan x="151">28</tspan><tspan x="164">29</tspan></text>
<text class="n" y="453.5"><tspan x="95">30</tspan><tspan x="106.5">1</tspan><tspan x="119">2</tspan><tspan x="131">3</tspan><tspan x="142">4</tspan><tspan x="151">5</tspan><tspan x="164">6</tspan></text>
<text class="n" y="462.5"><tspan x="95">7</tspan><tspan x="106.5">8</tspan><tspan x="119">9</tspan><tspan x="131">10</tspan><tspan x="142">11</tspan><tspan x="151">12</tspan><tspan x="164">13</tspan></text>
<text class="n" y="471.5"><tspan x="95">14</tspan><tspan x="106.5">15</tspan><tspan x="119">16</tspan><tspan x="131">17</tspan><tspan x="142">18</tspan><tspan x="151">19</tspan><tspan x="164">20</tspan></text>
<text class="n" y="480.5"><tspan x="95">21</tspan><tspan x="106.5">22</tspan><tspan x="119">23</tspan><tspan x="131">24</tspan><tspan x="142">25</tspan><tspan x="151">26</tspan><tspan x="164">27</tspan></text>
<text class="n" y="489.5"><tspan x="95">28</tspan><tspan x="106.5">29</tspan><tspan x="119">30</tspan><tspan x="131">31</tspan><tspan x="142">1</tspan><tspan x="151">2</tspan><tspan x="164">3</tspan></text>
<text class="n" y="498.5"><tspan x="95">4</tspan><tspan x="106.5">5</tspan><tspan x="119">6</tspan><tspan x="131">7</tspan><tspan x="142">8</tspan><tspan x="151">9</tspan><tspan x="164">10</tspan></text>
<text class="n" y="507.5"><tspan x="95">11</tspan><tspan x="106.5">12</tspan><tspan x="119">13</tspan><tspan x="131">14</tspan><tspan x="142">15</tspan><tspan x="151">16</tspan><tspan x="164">17</tspan></text>
<text class="n" y="516.5"><tspan x="95">18</tspan><tspan x="106.5">19</tspan><tspan x="119">20</tspan><tspan x="131">21</tspan><tspan x="142">22</tspan><tspan x="151">23</tspan><tspan x="164">24</tspan></text>
<text class="n" y="526.5"><tspan x="95">25</tspan><tspan x="106.5">26</tspan><tspan x="119">27</tspan><tspan x="131">28</tspan><tspan x="142">29</tspan><tspan x="151">30</tspan><tspan x="164">31</tspan></text>
<text class="n" y="535.5"><tspan x="95">1</tspan><tspan x="106.5">2</tspan><tspan x="119">3</tspan><tspan x="131">4</tspan><tspan x="142">5</tspan><tspan x="151">6</tspan><tspan x="164">7</tspan></text>
<text class="n" y="543.5"><tspan x="95">8</tspan><tspan x="106.5">9</tspan><tspan x="119">10</tspan><tspan x="131">11</tspan><tspan x="142">12</tspan><tspan x="151">13</tspan><tspan x="164">14</tspan></text>
<text class="n" y="553.5"><tspan x="95">15</tspan><tspan x="106.5">16</tspan><tspan x="119">17</tspan><tspan x="131">18</tspan><tspan x="142">19</tspan><tspan x="151">20</tspan><tspan x="164">21</tspan></text>
<text class="n" y="561.5"><tspan x="95">22</tspan><tspan x="106.5">23</tspan><tspan x="119">24</tspan><tspan x="131">25</tspan><tspan x="142">26</tspan><tspan x="151">27</tspan><tspan x="164">28</tspan></text>
<text class="n" y="570.5"><tspan x="95">29</tspan><tspan x="106.5">30</tspan><tspan x="119">1</tspan><tspan x="131">2</tspan><tspan x="142">3</tspan><tspan x="151">4</tspan><tspan x="164">5</tspan></text>

<!-- notes -->
<text class="nt" x="166.5" y="132.5" textLength="83" lengthAdjust="spacingAndGlyphs">19 (PM), Jesse, Marcury all night</text>
<text class="nt" x="166.5" y="140.5" textLength="108" lengthAdjust="spacingAndGlyphs">Oscar, 26.10. Jolly , Bonzo and Jolly, 25.10</text>
<text class="nt" x="166.5" y="149.5">pluto, 2.11</text>
<text class="nt" x="166.5" y="157.5">8.11.13, Lassi.</text>
<text class="nt" x="166.5" y="191.5" textLength="52.5" lengthAdjust="spacingAndGlyphs">7.12 Kiri Kiri and Bras</text>
<text class="nt" x="166.5" y="345.5" textLength="72" lengthAdjust="spacingAndGlyphs">5th Sausage mounted Taiga</text>
<text class="nt" x="166.5" y="445.5" textLength="111" lengthAdjust="spacingAndGlyphs">26th Pikkis found loose on farm in morning</text>
<text class="nt" x="166.5" y="453.5" textLength="106" lengthAdjust="spacingAndGlyphs">1st Aslan found loose on farm in morning</text>

<!-- cell labels -->
<g class="c">
<text class="c" x="309" y="124.5">11th</text><text class="c" x="337" y="124.5">?</text>
<text class="c" x="337" y="132.5">?</text><text class="c" x="366" y="132.5">?</text>
<text class="c" x="366" y="140.5">?</text><text class="c" x="500" y="140.5">27th</text>
<text class="c" x="582" y="149.5">?</text>
<text class="c" x="366" y="157.5">?</text><text class="c" x="527" y="157.5">?</text>
<text class="c" x="253" y="165.5">?</text><text class="c" x="281" y="165.5">?</text><text class="c" x="366" y="165.5">?</text>
<text class="c" x="223" y="174.5">?</text><text class="c" x="253" y="174.5">20th</text><text class="c" x="281" y="174.5">17th</text><text class="c" x="309" y="174.5">?</text><text class="c" x="527" y="174.5">?</text><text class="c" x="582" y="174.5">?</text>
<text class="c" x="223" y="182.5">?</text><text class="c" x="527" y="182.5">?</text><text class="c" x="582" y="182.5">?</text>
<text class="c" x="223" y="191.5">?</text><text class="c" x="309" y="191.5">?</text><text class="c" x="500" y="191.5">?</text><text class="c" x="527" y="191.5">?</text><text class="c" x="582" y="191.5">?</text>
<text class="c" x="253" y="200.5">(brown)</text><text class="c" x="337" y="200.5">15TH</text><text class="c" x="444" y="200.5">13TH</text><text class="c" x="582" y="200.5">?</text>
<text class="c" x="223" y="212.5">?</text><text class="c" x="416" y="206.5">'</text>
<text class="c" x="223" y="224.5">?</text><text class="c" x="416" y="218.5">'</text>
<text class="c" x="223" y="236.5">?</text><text class="c" x="366" y="236.5">?</text>
<text class="c" x="223" y="245.5">10th</text><text class="c" x="309" y="245.5">?</text>
<text class="c" x="366" y="253.5">?</text>
<text class="c" x="500" y="261.5">?</text><text class="c" x="582" y="261.5">?</text>
<text class="c" x="223" y="270.5">10th trace</text><text class="c" x="309" y="270.5">?</text><text class="c" x="527" y="270.5">1st</text><text class="c" x="582" y="270.5">30th ?</text><text class="c" x="610" y="270.5">30th</text>
<text class="c" x="253" y="278.5">?</text><text class="c" x="366" y="278.5">?</text><text class="c" x="444" y="278.5">?</text>
<text class="c" x="444" y="286.5">?</text><text class="c" x="500" y="286.5">14th</text>
<text class="c" x="309" y="295.5">?</text><text class="c" x="366" y="295.5">?</text><text class="c" x="444" y="295.5">?</text>
<text class="c" x="309" y="311.5">4th</text><text class="c" x="444" y="311.5">?</text>
<text class="c" x="223" y="320.5">?</text><text class="c" x="337" y="320.5">?</text><text class="c" x="366" y="320.5">?</text><text class="c" x="444" y="320.5">?</text>
<text class="c" x="223" y="336.5">?</text><text class="c" x="337" y="336.5">?</text>
<text class="c" x="281" y="345.5">3rd</text>
<text class="c" x="309" y="353.5">?</text>
<text class="c" x="223" y="361.5">?</text><text class="c" x="253" y="361.5">?</text><text class="c" x="309" y="361.5">?</text><text class="c" x="366" y="361.5">?</text><text class="c" x="500" y="361.5">?</text><text class="c" x="527" y="361.5">?</text>
<text class="c" x="223" y="370.5">?</text><text class="c" x="309" y="370.5">?</text><text class="c" x="390" y="370.5">?</text><text class="c" x="444" y="370.5">2nd</text><text class="c" x="500" y="370.5">?</text>
<text class="c" x="223" y="377.5">?</text><text class="c" x="390" y="377.5">?</text>
<text class="c" x="253" y="386.5">9th</text><text class="c" x="366" y="386.5">?</text><text class="c" x="390" y="386.5">9th</text><text class="c" x="417" y="386.5">2/4</text>
<text class="c" x="366" y="395.5">?</text><text class="c" x="500" y="395.5">15th</text>
<text class="c" x="223" y="403.5">?</text><text class="c" x="366" y="403.5">?</text><text class="c" x="610" y="403.5">?</text>
<text class="c" x="223" y="411.5">?</text><text class="c" x="366" y="411.5">?</text><text class="c" x="610" y="411.5">?</text>
<text class="c" x="223" y="420.5">?</text><text class="c" x="337" y="420.5">8th</text><text class="c" x="582" y="420.5">?</text><text class="c" x="610" y="420.5">?</text>
<text class="c" x="444" y="428.5">11th</text><text class="c" x="582" y="428.5">11th</text>
<text class="c" x="281" y="445.5">?</text>
<text class="c" x="500" y="453.5">?</text>
<text class="c" x="471" y="462.5">?</text>
<text class="c" x="527" y="471.5">?</text><text class="c" x="638" y="471.5">19th</text>
<text class="c" x="309" y="480.5">?</text>
<text class="c" x="309" y="489.5">?</text>
<text class="c" x="309" y="498.5">7th</text>
<text class="c" x="337" y="516.5">25th</text><text class="c" x="610" y="516.5">?</text><text class="c" x="667" y="516.5">?</text>
<text class="c" x="281" y="526.5">?</text><text class="c" x="527" y="526.5">?</text><text class="c" x="667" y="526.5">?</text>
<text class="c" x="500" y="535.5">?</text><text class="c" x="527" y="535.5">?</text><text class="c" x="667" y="535.5">1st</text>
<text class="c" x="223" y="543.5">?</text><text class="c" x="471" y="543.5">10th</text>
<text class="c" x="223" y="553.5">?</text><text class="c" x="527" y="553.5">?</text>
<text class="c" x="223" y="561.5">?</text><text class="c" x="366" y="561.5">?</text><text class="c" x="527" y="561.5">?</text>
<text class="c" x="366" y="570.5">?</text><text class="c" x="527" y="570.5">1st</text>
</g>
</svg>
</body></html>
